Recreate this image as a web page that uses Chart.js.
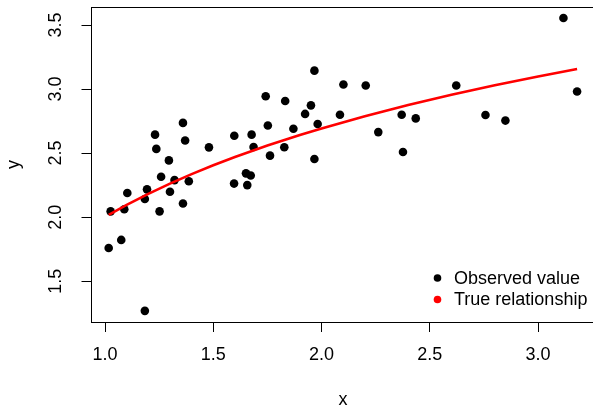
<!DOCTYPE html>
<html>
<head>
<meta charset="utf-8">
<script src="https://cdn.jsdelivr.net/npm/chart.js@4/dist/chart.umd.min.js"></script>
<style>
  html, body { margin: 0; padding: 0; background: #fff; overflow: hidden; }
  #wrap { width: 600px; height: 409px; }
</style>
</head>
<body>
<div id="wrap"><canvas id="c" width="600" height="409"></canvas></div>
<script>
// Observed sample
const obsX = [1.017, 1.026, 1.075, 1.089, 1.103, 1.184, 1.184, 1.194, 1.231, 1.237,
              1.252, 1.259, 1.295, 1.300, 1.321, 1.360, 1.360, 1.370, 1.387, 1.480,
              1.597, 1.596, 1.651, 1.673, 1.657, 1.677, 1.686, 1.742, 1.752, 1.762,
              1.832, 1.828, 1.870, 1.924, 1.951, 1.967, 1.967, 1.982, 2.085, 2.101,
              2.204, 2.262, 2.370, 2.435, 2.376, 2.622, 2.757, 2.849, 3.117, 3.180];
const obsY = [1.759, 2.045, 1.822, 2.061, 2.188, 2.141, 1.268, 2.217, 2.644, 2.533,
              2.045, 2.315, 2.443, 2.198, 2.289, 2.736, 2.106, 2.599, 2.280, 2.545,
              2.636, 2.262, 2.342, 2.325, 2.250, 2.644, 2.548, 2.944, 2.715, 2.480,
              2.907, 2.546, 2.690, 2.806, 2.873, 3.144, 2.454, 2.727, 2.800, 3.036,
              3.028, 2.664, 2.800, 2.771, 2.509, 3.028, 2.798, 2.754, 3.555, 2.981];

// Underlying curve
const trueX = [1.017, 1.10, 1.20, 1.30, 1.40, 1.50, 1.60, 1.75, 1.90, 2.00,
               2.20, 2.40, 2.60, 2.80, 3.00, 3.18];
const trueY = [2.018, 2.095, 2.182, 2.262, 2.336, 2.405, 2.470, 2.560, 2.642, 2.693,
               2.788, 2.875, 2.956, 3.030, 3.099, 3.157];

// Axis ticks
const xTicks = [1.0, 1.5, 2.0, 2.5, 3.0];
const yTicks = [1.5, 2.0, 2.5, 3.0, 3.5];

const legendLabels = ['Observed value', 'True relationship'];
const legendColors = ['#000000', '#ff0000'];

const FONT = '"Liberation Sans", Arial, sans-serif';

const toXY = (xs, ys) => xs.map((x, i) => ({ x: x, y: ys[i] }));

const frame = {
  id: 'frame',
  afterDraw(chart) {
    const ctx = chart.ctx;
    const a = chart.chartArea;
    ctx.save();
    // box around the plotting region
    ctx.strokeStyle = '#000';
    ctx.lineWidth = 1;
    ctx.strokeRect(Math.round(a.left) + 0.5, Math.round(a.top) + 0.5,
                   Math.round(a.right - a.left), Math.round(a.bottom - a.top));

    ctx.fillStyle = '#000';
    ctx.font = '18px ' + FONT;
    ctx.textAlign = 'center';
    ctx.textBaseline = 'middle';

    // rotated y tick labels
    const ys = chart.scales.y;
    ys.ticks.forEach(t => {
      const py = ys.getPixelForValue(t.value);
      ctx.save();
      ctx.translate(56, py);
      ctx.rotate(-Math.PI / 2);
      ctx.fillText(t.value.toFixed(1), 0, 0);
      ctx.restore();
    });

    // axis titles
    ctx.save();
    ctx.translate(14, (a.top + a.bottom) / 2);
    ctx.rotate(-Math.PI / 2);
    ctx.fillText('y', 0, 0);
    ctx.restore();
    ctx.fillText('x', (a.left + a.right) / 2, 400);

    // legend
    ctx.textAlign = 'left';
    legendLabels.forEach((lab, i) => {
      const cy = 278 + i * 21.5;
      ctx.fillStyle = legendColors[i];
      ctx.beginPath();
      ctx.arc(437.5, cy, 3.8, 0, Math.PI * 2);
      ctx.fill();
      ctx.fillStyle = '#000';
      ctx.fillText(lab, 454, cy + 1);
    });
    ctx.restore();
  }
};

new Chart(document.getElementById('c'), {
  type: 'scatter',
  data: {
    datasets: [
      {
        label: legendLabels[1],
        type: 'line',
        data: toXY(trueX, trueY),
        borderColor: '#ff0000',
        borderWidth: 2.6,
        pointRadius: 0,
        fill: false,
        tension: 0,
        order: 0
      },
      {
        label: legendLabels[0],
        data: toXY(obsX, obsY),
        backgroundColor: '#000000',
        borderColor: '#000000',
        borderWidth: 0,
        pointRadius: 4.3,
        pointHoverRadius: 4.3,
        order: 1
      }
    ]
  },
  options: {
    responsive: false,
    animation: false,
    events: [],
    layout: { padding: { left: 0, top: 7, right: 4, bottom: 0 } },
    plugins: { legend: { display: false }, tooltip: { enabled: false } },
    scales: {
      x: {
        type: 'linear',
        min: 0.933,
        max: 3.266,
        afterBuildTicks(s) { s.ticks = xTicks.map(v => ({ value: v })); },
        afterFit(s) { s.height = 87; },
        border: { display: false },
        grid: { drawOnChartArea: false, drawTicks: true, tickLength: 10, color: '#000', lineWidth: 1 },
        ticks: {
          color: '#000',
          font: { family: FONT, size: 18 },
          padding: 12,
          maxRotation: 0,
          autoSkip: false,
          callback: v => Number(v).toFixed(1)
        }
      },
      y: {
        type: 'linear',
        min: 1.181,
        max: 3.641,
        afterBuildTicks(s) { s.ticks = yTicks.map(v => ({ value: v })); },
        afterFit(s) { s.width = 90.5; },
        border: { display: false },
        grid: { drawOnChartArea: false, drawTicks: true, tickLength: 9, color: '#000', lineWidth: 1 },
        ticks: { display: false }
      }
    }
  },
  plugins: [frame]
});
</script>
</body>
</html>
